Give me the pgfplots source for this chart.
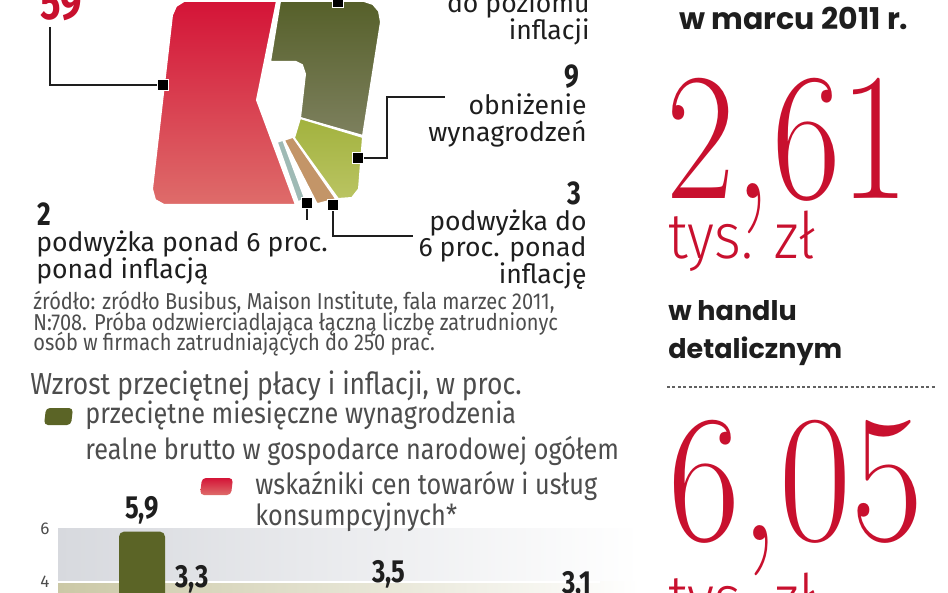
\documentclass[border=0pt]{standalone}
\usepackage{fontspec}
\usepackage{pgfplots}
\pgfplotsset{compat=1.18}
\newfontfamily\fira{Fira Sans}
\newfontfamily\condf{Fira Sans}[FakeStretch=0.87]
\newfontfamily\narrowb{Fira Sans}[FakeStretch=0.8]
\newfontfamily\popf{Poppins}
\newfontfamily\thinf{Fira Sans Light}[FakeStretch=0.9]

\definecolor{cred}{HTML}{C8102E}
\definecolor{redtop}{HTML}{D41437}
\definecolor{redbot}{HTML}{DE6C6A}
\definecolor{olivetop}{HTML}{56602A}
\definecolor{olivebot}{HTML}{7D805E}
\definecolor{lgtop}{HTML}{A2B23E}
\definecolor{lgbot}{HTML}{BAC462}
\definecolor{tanc}{HTML}{C39568}
\definecolor{greyblue}{HTML}{9FBAB5}
\definecolor{txt}{HTML}{1E1E1E}
\definecolor{srcgrey}{HTML}{4D4D4D}
\definecolor{bandgrey}{HTML}{D7D9DE}
\definecolor{beige}{HTML}{CBC8A6}
\definecolor{barolive}{HTML}{5B6426}
\definecolor{barred}{HTML}{D4203C}

\begin{document}
\begin{tikzpicture}
\useasboundingbox (0,0) rectangle (474pt,296.5pt);
\clip (0,0) rectangle (474pt,296.5pt);

% bar chart (cut off at the bottom, as in the original)
\begin{axis}[
  at={(29pt,-47.5pt)}, anchor=south west,
  x=0.5pt, y=13.25pt,
  xmin=58, xmax=640, ymin=0, ymax=6,
  axis line style={draw=none},
  tick style={draw=none},
  xtick=\empty,
  ytick={4,6},
  yticklabel style={font=\fira\fontsize{8.5}{8.5}\selectfont, text=srcgrey, anchor=center, xshift=-6.5pt},
  /pgf/number format/assume math mode=true,
  clip=false,
  ]
\addplot[draw=none, left color=bandgrey, right color=white, forget plot]
  coordinates {(58,4) (640,4) (640,6) (58,6)} -- cycle;
\addplot[draw=none, left color=beige, right color=white, forget plot]
  coordinates {(58,0) (640,0) (640,4) (58,4)} -- cycle;
\addplot[white, line width=1.2pt, forget plot] coordinates {(58,4) (600,4)};
\addplot[ybar, bar width=23pt, bar shift=0pt, fill=barolive, draw=none,
  rounded corners=2.5pt,
  nodes near coords, nodes near coords align={vertical},
  every node near coord/.append style={font=\narrowb\bfseries\fontsize{16}{16}\selectfont, text=txt},
  /pgf/number format/.cd, use comma, fixed, precision=1]
  coordinates {(142,5.9)};
\addplot[ybar, bar width=23pt, bar shift=0pt, fill=barred, draw=none,
  nodes near coords, nodes near coords align={vertical},
  every node near coord/.append style={font=\narrowb\bfseries\fontsize{16}{16}\selectfont, text=txt},
  /pgf/number format/.cd, use comma, fixed, precision=1]
  coordinates {(192,3.3) (389,3.5) (577,3.1)};
\end{axis}

% everything else, in pixel coordinates of the reference
\begin{axis}[
  at={(0,0)}, anchor=south west,
  x=0.5pt, y=0.5pt, y dir=reverse,
  xmin=0, xmax=948, ymin=0, ymax=593,
  hide axis, clip=false,
  ]
% pie shaped as a rounded square
\addplot[draw=white, line width=1pt, top color=redtop, bottom color=redbot]
  coordinates {(184,1) (277,1) (257,100) (296,205) (164,205) (155,200) (152,189) (172,15) (176,6)} -- cycle;
\addplot[draw=white, line width=1pt, top color=olivetop, bottom color=olivebot]
  coordinates {(280,1) (364,1) (373,4) (379,11) (381,22) (363,136) (300,118) (305,74) (302,65) (296,62) (270,62)} -- cycle;
\addplot[draw=white, line width=1pt, top color=lgtop, bottom color=lgbot]
  coordinates {(294,138) (300,118) (363,137) (359,189) (352,198) (338,199)} -- cycle;
\addplot[draw=white, line width=0.8pt, fill=tanc]
  coordinates {(284,140) (293,137) (336,199) (317,204)} -- cycle;
\addplot[draw=white, line width=0.8pt, fill=greyblue]
  coordinates {(277,142) (283,140) (305,199) (298,202)} -- cycle;

% leader lines
\addplot[txt, line width=0.7pt] coordinates {(50,27) (50,85) (163,85)};
\addplot[txt, line width=0.7pt] coordinates {(338,2) (338,-10)};
\addplot[txt, line width=0.7pt] coordinates {(358,158) (387,158) (387,97) (445,97)};
\addplot[txt, line width=0.7pt] coordinates {(307,203) (307,220)};
\addplot[txt, line width=0.7pt] coordinates {(333,205) (333,236) (413,236)};
\addplot[only marks, mark=square*, mark size=2.6pt,
  mark options={fill=black, draw=white, line width=0.6pt}]
  coordinates {(163,85) (338,2) (358,158) (307,203) (333,205)};

% legend swatches
\addplot[draw=none, fill=barolive, rounded corners=2pt]
  coordinates {(46,408) (73,408) (71,425) (44,425)} -- cycle;
\addplot[draw=none, top color=redtop, bottom color=redbot, rounded corners=2pt]
  coordinates {(202,478) (233,478) (231,495) (200,495)} -- cycle;

% dotted separator
\addplot[txt!70, line width=0.6pt, dash pattern=on 1.5pt off 1.2pt] coordinates {(667,387) (935,387)};

% pie labels
\node[anchor=base west, inner sep=0pt, font=\narrowb\bfseries\fontsize{24}{24}\selectfont, text=cred] at (axis cs:40,20) {59};
\begin{scope}[every node/.style={anchor=base east, inner sep=0pt, font=\fira\fontsize{13.3}{13.3}\selectfont, text=txt}]
\node at (axis cs:590,13) {do poziomu};
\node at (axis cs:590,40) {inflacji};
\node at (axis cs:587,115) {obniżenie};
\node at (axis cs:587,142) {wynagrodzeń};
\node at (axis cs:587,231) {podwyżka do};
\node at (axis cs:587,257) {6 proc. ponad};
\node at (axis cs:587,283) {inflację};
\node[font=\narrowb\bfseries\fontsize{16.5}{16.5}\selectfont] at (axis cs:580,88) {9};
\node[font=\narrowb\bfseries\fontsize{16.5}{16.5}\selectfont] at (axis cs:582,205) {3};
\end{scope}
\begin{scope}[every node/.style={anchor=base west, inner sep=0pt, font=\fira\fontsize{13.3}{13.3}\selectfont, text=txt}]
\node[font=\narrowb\bfseries\fontsize{16.5}{16.5}\selectfont] at (axis cs:37,226) {2};
\node at (axis cs:36,252) {podwyżka ponad 6 proc.};
\node at (axis cs:36,278) {ponad inflacją};
\end{scope}

% source
\begin{scope}[every node/.style={anchor=base west, font=\condf\fontsize{11.5}{11.5}\selectfont, text=srcgrey, inner sep=0pt}]
\node at (axis cs:33,310) {źródło: zródło Busibus, Maison Institute, fala marzec 2011,};
\node at (axis cs:33,330) {N:708. Próba odzwierciadlająca łączną liczbę zatrudnionyc};
\node at (axis cs:33,350) {osób w firmach zatrudniających do 250 prac.};
\end{scope}

% bar chart title and legend
\begin{scope}[every node/.style={anchor=base west, font=\condf\fontsize{14.5}{14.5}\selectfont, text=srcgrey, inner sep=0pt}]
\node[font=\condf\fontsize{15.2}{15.2}\selectfont] at (axis cs:30,394) {Wzrost przeciętnej płacy i inflacji, w proc.};
\node at (axis cs:85,423) {przeciętne miesięczne wynagrodzenia};
\node at (axis cs:85,459) {realne brutto w gospodarce narodowej ogółem};
\node at (axis cs:255,494) {wskaźniki cen towarów i usług};
\node at (axis cs:255,525) {konsumpcyjnych*};
\end{scope}

% right column
\node[anchor=base, inner sep=0pt, font=\popf\bfseries\fontsize{15}{15}\selectfont, text=txt] at (axis cs:794,30) {w marcu 2011 r.};
\node[anchor=base west, inner sep=0pt, text=cred] at (axis cs:666,199)
  {\scalebox{0.82}[1]{\fontsize{91}{91}\selectfont 2,61}};
\node[anchor=base west, inner sep=0pt, font=\thinf\fontsize{32}{32}\selectfont, text=cred] at (axis cs:668,259) {tys. zł};
\node[anchor=base west, inner sep=0pt, font=\popf\bfseries\fontsize{13.5}{13.5}\selectfont, text=txt] at (axis cs:668,320) {w handlu};
\node[anchor=base west, inner sep=0pt, font=\popf\bfseries\fontsize{13.5}{13.5}\selectfont, text=txt] at (axis cs:668,358) {detalicznym};
\node[anchor=base west, inner sep=0pt, text=cred] at (axis cs:668,540)
  {\scalebox{0.86}[1]{\fontsize{91}{91}\selectfont 6,05}};
\node[anchor=base west, inner sep=0pt, font=\thinf\fontsize{32}{32}\selectfont, text=cred] at (axis cs:668,620) {tys. zł};
\end{axis}
\end{tikzpicture}
\end{document}
